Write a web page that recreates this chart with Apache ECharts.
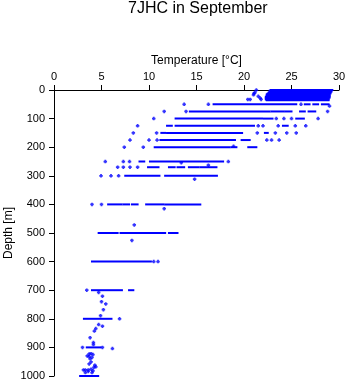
<!DOCTYPE html>
<html>
<head>
<meta charset="utf-8">
<script src="https://cdn.jsdelivr.net/npm/echarts@6/dist/echarts.min.js"></script>
<style>
html,body{margin:0;padding:0;background:#fff;}
#chart{width:348px;height:384px;}
</style>
</head>
<body>
<div id="chart"></div>
<script>
const titleText = '7JHC in September';
const tempTicks = [0, 5, 10, 15, 20, 25, 30];
const depthTicks = [0, 100, 200, 300, 400, 500, 600, 700, 800, 900, 1000];

// dense runs of observations: [depth, tempStart, tempEnd]
const runs = [
  [0, 22.8, 29.3], [3, 22.7, 29.2], [6, 22.7, 29.2], [9, 22.6, 29.1],
  [12, 22.5, 29.1], [15, 22.4, 29.0], [18, 22.4, 29.0], [21, 22.4, 29.0],
  [24, 22.3, 29.0], [27, 22.3, 29.0], [30, 22.3, 28.9], [33, 22.3, 28.9],
  [36, 22.4, 28.9],
  [50, 16.8, 25.5], [50, 26.4, 26.9], [50, 27.3, 27.8], [50, 28.2, 28.9],
  [75, 14.3, 22.7], [75, 22.9, 24.2], [75, 24.4, 25.0], [75, 25.9, 26.4], [75, 26.8, 27.5],
  [100, 12.8, 21.9], [100, 22.1, 23.0], [100, 25.5, 26.3],
  [125, 11.9, 12.4], [125, 12.8, 21.05], [125, 24.1, 24.6],
  [150, 11.3, 11.7], [150, 11.9, 19.8], [150, 22.2, 22.5],
  [175, 11.2, 19.05], [175, 19.75, 20.6],
  [200, 10.6, 18.5], [200, 18.7, 19.2], [200, 20.45, 21.3],
  [250, 9.0, 9.5], [250, 10.1, 17.8],
  [270, 9.9, 11.0], [270, 12.1, 12.7], [270, 13.0, 13.7], [270, 14.2, 15.2], [270, 15.4, 17.1],
  [300, 7.5, 11.1], [300, 11.7, 17.15],
  [400, 5.7, 7.1], [400, 7.3, 7.9], [400, 8.2, 8.8], [400, 9.7, 11.5], [400, 11.7, 15.4],
  [500, 4.7, 6.7], [500, 7.0, 11.7], [500, 12.1, 13.0],
  [600, 4.0, 10.2],
  [700, 4.0, 7.15], [700, 7.9, 8.35],
  [800, 3.15, 6.05],
  [900, 3.45, 4.9],
  [1000, 2.75, 4.65]
];

// isolated observations: [temperature, depth]
const points = [
  [21.3, 0], [21.15, 9], [21.05, 12], [21.0, 17], [21.5, 22], [21.7, 28], [20.4, 33], [20.65, 33], [21.8, 33],
  [13.7, 50], [16.25, 50], [26.0, 50], [29.0, 56],
  [11.6, 75], [13.9, 75], [28.8, 75],
  [10.5, 100], [23.4, 100], [24.2, 100], [25.0, 100], [27.8, 100],
  [8.8, 125], [21.5, 125], [22.0, 125], [23.6, 125], [25.4, 125], [26.5, 125],
  [8.35, 150], [10.8, 150], [21.4, 150], [23.3, 150], [24.5, 150], [25.5, 150],
  [8.0, 175], [10.0, 175], [10.85, 175], [22.4, 175], [22.9, 175], [23.7, 175],
  [7.4, 200], [9.4, 200], [18.9, 197],
  [5.4, 250], [7.3, 250], [7.95, 250], [18.35, 250], [13.4, 254],
  [6.7, 270], [7.3, 270], [8.0, 270], [8.8, 270], [16.25, 263],
  [4.95, 300], [6.0, 300], [6.8, 300], [14.8, 312],
  [4.0, 400], [5.0, 400], [11.6, 415],
  [8.45, 472],
  [8.2, 526],
  [10.5, 600], [10.95, 600],
  [3.45, 700], [4.7, 708], [5.1, 721], [5.0, 740], [5.45, 748], [5.2, 768], [4.9, 789],
  [6.9, 800], [4.7, 820], [5.1, 826], [4.4, 834], [4.25, 843], [3.8, 866], [4.15, 883], [4.15, 890],
  [3.0, 900], [5.1, 900], [6.15, 904],
  [3.7, 923], [3.9, 922], [4.1, 925], [3.5, 930], [3.7, 932], [4.0, 935], [3.8, 940], [3.9, 951],
  [3.7, 958], [4.3, 962], [4.2, 970], [4.4, 968], [3.1, 979], [3.3, 979], [3.6, 979], [3.9, 976],
  [4.1, 982], [3.3, 988], [4.0, 988], [3.6, 984]
];

const BLUE = '#0000ff';
const FONT = '"Liberation Sans", Arial, Helvetica, sans-serif';
const chart = echarts.init(document.getElementById('chart'), null, {renderer: 'canvas'});

chart.setOption({
  animation: false,
  backgroundColor: '#ffffff',
  textStyle: {fontFamily: FONT},
  title: {
    text: titleText,
    left: 128,
    top: 1,
    padding: 0,
    textStyle: {fontFamily: FONT, fontSize: 16, fontWeight: 'normal', color: '#000'}
  },
  grid: {left: 54, right: 9, top: 90, bottom: 8, containLabel: false, outerBoundsMode: 'none'},
  xAxis: {
    type: 'value',
    position: 'top',
    min: tempTicks[0],
    max: tempTicks[tempTicks.length - 1],
    interval: tempTicks[1] - tempTicks[0],
    name: 'Temperature [°C]',
    nameLocation: 'middle',
    nameGap: 23,
    nameMoveOverlap: false,
    nameTextStyle: {fontFamily: FONT, fontSize: 12, color: '#000'},
    axisLine: {show: true, lineStyle: {color: '#000', width: 1}},
    axisTick: {show: true, inside: false, length: 5, lineStyle: {color: '#000'}},
    axisLabel: {fontFamily: FONT, fontSize: 11, color: '#000', margin: 8, formatter: function (v) { return String(v); }},
    splitLine: {show: false}
  },
  yAxis: {
    type: 'value',
    inverse: true,
    min: depthTicks[0],
    max: depthTicks[depthTicks.length - 1],
    interval: depthTicks[1] - depthTicks[0],
    name: 'Depth [m]',
    nameLocation: 'middle',
    nameGap: 39,
    nameMoveOverlap: false,
    nameTextStyle: {fontFamily: FONT, fontSize: 12, color: '#000'},
    axisLine: {show: true, lineStyle: {color: '#000', width: 1}},
    axisTick: {show: true, inside: false, length: 5, lineStyle: {color: '#000'}},
    axisLabel: {fontFamily: FONT, fontSize: 11, color: '#000', margin: 9, formatter: function (v) { return String(v); }},
    splitLine: {show: false}
  },
  series: [
    {
      type: 'custom',
      clip: false,
      data: runs,
      encode: {x: [1, 2], y: 0},
      renderItem: function (params, api) {
        const a = api.coord([api.value(1), api.value(0)]);
        const b = api.coord([api.value(2), api.value(0)]);
        return {
          type: 'rect',
          shape: {x: a[0] - 1, y: a[1] - 1, width: b[0] - a[0] + 2, height: 2},
          style: {fill: BLUE}
        };
      }
    },
    {
      type: 'scatter',
      clip: false,
      data: points,
      symbol: 'path://M1 0h2v1h1v2h-1v1h-2v-1h-1v-2h1z',
      symbolSize: 3.5,
      itemStyle: {color: BLUE}
    }
  ]
});
</script>
</body>
</html>
